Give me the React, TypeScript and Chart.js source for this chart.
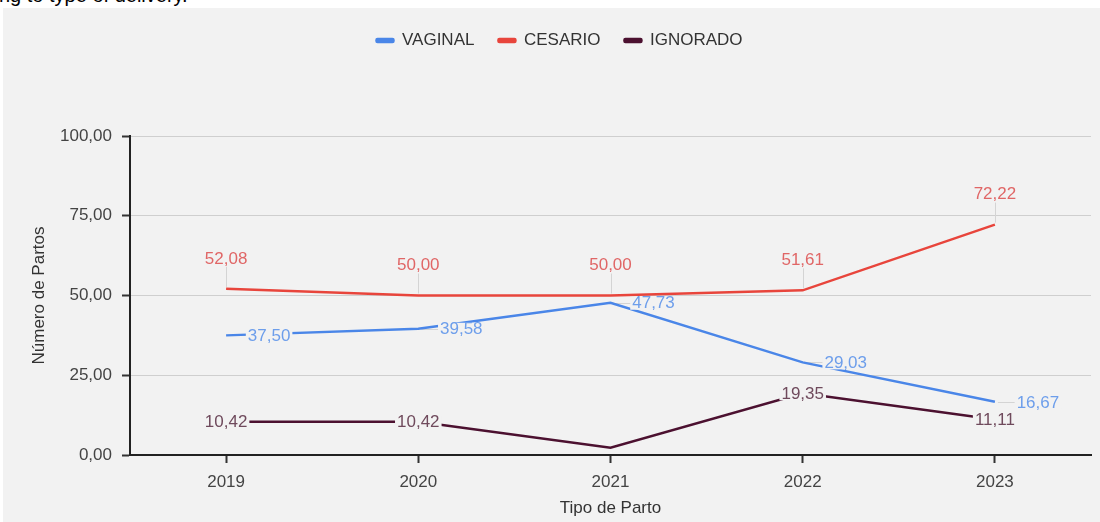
import { useEffect, useRef } from 'react';
import { Chart, registerables } from 'chart.js';

Chart.register(...registerables);

// Share of deliveries (%) per year and delivery type
const years = ['2019', '2020', '2021', '2022', '2023'];
const vaginal = [37.5, 39.58, 47.73, 29.03, 16.67];
const cesario = [52.08, 50.0, 50.0, 51.61, 72.22];
const ignorado = [10.42, 10.42, 2.27, 19.35, 11.11];
const yTickValues = [0, 25, 50, 75, 100];

const FONT = '"Liberation Sans", Arial, Helvetica, sans-serif';
const PANEL = '#f2f2f2';
const LABEL_MIN = 5; // values this small sit on the axis and get no label

const fmt = (v: number) => Number(v).toFixed(2).replace('.', ',');

type Placement = 'right' | 'above' | 'center';
const placements: Placement[] = ['right', 'above', 'center'];
const labelColors = ['#6d9eeb', '#e06666', '#6f4a5c'];
const ABOVE_GAP = 31;
const RIGHT_GAP = 43;

// Value labels: leaders under the lines, text on top
const valueLabels = {
  id: 'valueLabels',
  beforeDatasetsDraw(chart: any) {
    const ctx = chart.ctx;
    ctx.save();
    ctx.font = `17px ${FONT}`;
    ctx.strokeStyle = '#d4d4d4';
    ctx.lineWidth = 1;
    chart.data.datasets.forEach((ds: any, i: number) => {
      const place = placements[i];
      chart.getDatasetMeta(i).data.forEach((pt: any, j: number) => {
        const v = ds.data[j];
        if (v < LABEL_MIN) return;
        ctx.beginPath();
        if (place === 'above') {
          const x = Math.round(pt.x) + 0.5;
          ctx.moveTo(x, pt.y - 2);
          ctx.lineTo(x, pt.y - ABOVE_GAP + 9);
          ctx.stroke();
        } else if (place === 'right') {
          const w = ctx.measureText(fmt(v)).width;
          const y = Math.round(pt.y) + 0.5;
          ctx.moveTo(pt.x + 3, y);
          ctx.lineTo(pt.x + RIGHT_GAP - w / 2, y);
          ctx.stroke();
        }
      });
    });
    ctx.restore();
  },
  afterDatasetsDraw(chart: any) {
    const ctx = chart.ctx;
    ctx.save();
    ctx.font = `17px ${FONT}`;
    ctx.textAlign = 'center';
    ctx.textBaseline = 'middle';
    chart.data.datasets.forEach((ds: any, i: number) => {
      const place = placements[i];
      chart.getDatasetMeta(i).data.forEach((pt: any, j: number) => {
        const v = ds.data[j];
        if (v < LABEL_MIN) return;
        const text = fmt(v);
        const w = ctx.measureText(text).width;
        let x = pt.x;
        let y = pt.y;
        if (place === 'above') y = pt.y - ABOVE_GAP;
        if (place === 'right') x = pt.x + RIGHT_GAP;
        if (place !== 'above') {
          ctx.fillStyle = PANEL;
          ctx.fillRect(x - w / 2 - 2, y - 6, w + 4, 13);
        }
        ctx.fillStyle = labelColors[i];
        ctx.fillText(text, x, y + 1);
      });
    });
    ctx.restore();
  },
};

// Keeps the band above the plot as tall as the legend strip
const LEGEND_BAND = 128;
const legendBand = {
  id: 'legendBand',
  beforeLayout(chart: any) {
    const legend = chart.legend;
    if (legend && !legend.__banded) {
      const fit = legend.fit;
      legend.fit = function (this: any) {
        fit.call(this);
        this.height = LEGEND_BAND;
      };
      legend.__banded = true;
    }
  },
};

export default function App() {
  const canvasRef = useRef<HTMLCanvasElement>(null);

  useEffect(() => {
    const font = { family: FONT, size: 17 };
    const line = { borderWidth: 2.5, pointRadius: 0, tension: 0 };
    const chart = new Chart(canvasRef.current as HTMLCanvasElement, {
      type: 'line',
      data: {
        labels: years,
        datasets: [
          { label: 'VAGINAL', data: vaginal, borderColor: '#4a86e8', backgroundColor: '#4a86e8', ...line },
          { label: 'CESARIO', data: cesario, borderColor: '#e8453c', backgroundColor: '#e8453c', ...line },
          { label: 'IGNORADO', data: ignorado, borderColor: '#4c1130', backgroundColor: '#4c1130', ...line },
        ],
      },
      options: {
        responsive: false,
        animation: false,
        events: [],
        layout: { padding: { left: 25, right: 9, top: 0, bottom: 0 } },
        plugins: {
          legend: {
            position: 'top',
            labels: {
              font,
              color: '#333',
              boxWidth: 17,
              boxHeight: 3,
              useBorderRadius: true,
              borderRadius: 1,
              padding: 24,
            },
          },
          tooltip: { enabled: false },
        },
        scales: {
          x: {
            type: 'category',
            offset: true,
            grid: { drawOnChartArea: false, drawTicks: true, tickLength: 8, tickColor: '#333', tickWidth: 2 },
            border: { display: true, color: '#222', width: 2 },
            ticks: { font, color: '#444', padding: 9 },
            title: { display: true, text: 'Tipo de Parto', font, color: '#333', padding: { top: 0, bottom: 3 } },
            afterFit: (s: any) => {
              s.height = 67;
            },
          },
          y: {
            min: 0,
            max: 100,
            afterBuildTicks: (s: any) => {
              s.ticks = yTickValues.map((value) => ({ value }));
            },
            ticks: { font, color: '#444', padding: 10, callback: (v: any) => fmt(v) },
            grid: { color: '#cfcfcf', lineWidth: 1, tickColor: '#333', tickWidth: 2, tickLength: 8 },
            border: { display: true, color: '#222', width: 2 },
            title: { display: true, text: 'Número de Partos', font, color: '#333', padding: { top: 1, bottom: 0 } },
            afterFit: (s: any) => {
              s.width = 102;
            },
          },
        },
      } as any,
      plugins: [legendBand, valueLabels],
    });
    return () => chart.destroy();
  }, []);

  return (
    <div style={{ position: 'fixed', left: 0, top: 0, width: 1100, height: 522, overflow: 'hidden', background: '#fff' }}>
      <div
        style={{
          position: 'absolute',
          left: -1,
          top: -15,
          font: `20px ${FONT}`,
          lineHeight: '20px',
          color: '#000',
          whiteSpace: 'nowrap',
        }}
      >
        ng to type of delivery.
      </div>
      <div style={{ position: 'absolute', left: 3, top: 8, width: 1097, height: 514, background: PANEL }}>
        <canvas ref={canvasRef} width={1097} height={514} style={{ display: 'block' }} />
      </div>
    </div>
  );
}
